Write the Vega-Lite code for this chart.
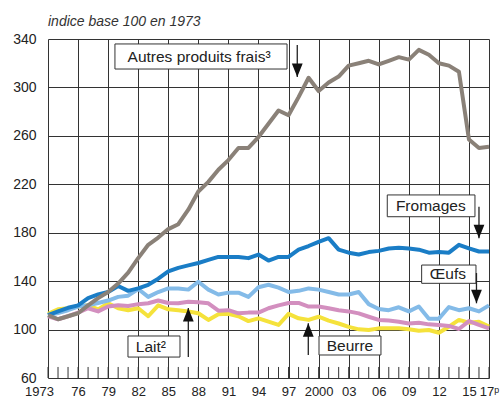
{
  "$schema": "https://vega.github.io/schema/vega-lite/v6.json",
  "width": 441,
  "height": 339,
  "autosize": {"type": "none"},
  "padding": {"left": 48, "top": 39, "right": 12, "bottom": 23},
  "background": "white",
  "config": {"view": {"stroke": null}, "font": "Liberation Sans", "axis": {"labelOverlap": false}},
  "title": {"text": "indice base 100 en 1973", "anchor": "start", "frame": "group", "fontStyle": "italic", "fontWeight": "normal", "fontSize": 14, "color": "#333333", "offset": 3, "font": "Liberation Sans"},
  "resolve": {"axis": {"x": "independent", "y": "independent"}},
  "datasets": {
    "series": [
      {"year": 1973, "Beurre": 113, "Lait": 111, "Oeufs": 112, "Fromages": 112, "Autres": 112},
      {"year": 1974, "Beurre": 116.7, "Lait": 108.5, "Oeufs": 113.7, "Fromages": 115, "Autres": 108.5},
      {"year": 1975, "Beurre": 117.6, "Lait": 111, "Oeufs": 116, "Fromages": 118, "Autres": 111},
      {"year": 1976, "Beurre": 119, "Lait": 114, "Oeufs": 119, "Fromages": 120, "Autres": 113.5},
      {"year": 1977, "Beurre": 120, "Lait": 117.6, "Oeufs": 120, "Fromages": 126, "Autres": 120},
      {"year": 1978, "Beurre": 116.7, "Lait": 115, "Oeufs": 122, "Fromages": 129, "Autres": 126},
      {"year": 1979, "Beurre": 121.7, "Lait": 119, "Oeufs": 124, "Fromages": 131, "Autres": 131},
      {"year": 1980, "Beurre": 117.6, "Lait": 120, "Oeufs": 127, "Fromages": 136, "Autres": 138},
      {"year": 1981, "Beurre": 116, "Lait": 119.5, "Oeufs": 128, "Fromages": 132, "Autres": 147},
      {"year": 1982, "Beurre": 117.6, "Lait": 121, "Oeufs": 133.5, "Fromages": 134, "Autres": 159},
      {"year": 1983, "Beurre": 111, "Lait": 121.7, "Oeufs": 127, "Fromages": 137, "Autres": 170},
      {"year": 1984, "Beurre": 120, "Lait": 124, "Oeufs": 131, "Fromages": 142, "Autres": 176},
      {"year": 1985, "Beurre": 116.7, "Lait": 122, "Oeufs": 134, "Fromages": 148, "Autres": 183},
      {"year": 1986, "Beurre": 116, "Lait": 121.7, "Oeufs": 134, "Fromages": 151, "Autres": 187},
      {"year": 1987, "Beurre": 115, "Lait": 123, "Oeufs": 133, "Fromages": 153, "Autres": 199},
      {"year": 1988, "Beurre": 113.5, "Lait": 122.5, "Oeufs": 139.5, "Fromages": 155, "Autres": 214},
      {"year": 1989, "Beurre": 108, "Lait": 121.7, "Oeufs": 133, "Fromages": 157.5, "Autres": 222},
      {"year": 1990, "Beurre": 112.6, "Lait": 115.6, "Oeufs": 129, "Fromages": 160, "Autres": 232},
      {"year": 1991, "Beurre": 113, "Lait": 116, "Oeufs": 130.5, "Fromages": 160, "Autres": 240},
      {"year": 1992, "Beurre": 111, "Lait": 113.4, "Oeufs": 130.5, "Fromages": 160, "Autres": 250},
      {"year": 1993, "Beurre": 107, "Lait": 114, "Oeufs": 127, "Fromages": 159, "Autres": 250},
      {"year": 1994, "Beurre": 109.3, "Lait": 114, "Oeufs": 135, "Fromages": 162, "Autres": 259},
      {"year": 1995, "Beurre": 106.5, "Lait": 117.6, "Oeufs": 137, "Fromages": 157, "Autres": 270},
      {"year": 1996, "Beurre": 103.8, "Lait": 120, "Oeufs": 134.6, "Fromages": 160, "Autres": 281},
      {"year": 1997, "Beurre": 113, "Lait": 122, "Oeufs": 131, "Fromages": 160, "Autres": 277},
      {"year": 1998, "Beurre": 109.3, "Lait": 122, "Oeufs": 132, "Fromages": 166, "Autres": 292},
      {"year": 1999, "Beurre": 108, "Lait": 119, "Oeufs": 134, "Fromages": 169, "Autres": 308},
      {"year": 2000, "Beurre": 110.6, "Lait": 119, "Oeufs": 133, "Fromages": 172.5, "Autres": 297},
      {"year": 2001, "Beurre": 107.4, "Lait": 117.6, "Oeufs": 131, "Fromages": 175.5, "Autres": 304},
      {"year": 2002, "Beurre": 105, "Lait": 116, "Oeufs": 129, "Fromages": 166, "Autres": 309},
      {"year": 2003, "Beurre": 102.2, "Lait": 115, "Oeufs": 129, "Fromages": 163.5, "Autres": 318},
      {"year": 2004, "Beurre": 100.2, "Lait": 113.4, "Oeufs": 131, "Fromages": 162, "Autres": 320},
      {"year": 2005, "Beurre": 99.6, "Lait": 110.6, "Oeufs": 121, "Fromages": 164, "Autres": 322},
      {"year": 2006, "Beurre": 101, "Lait": 108, "Oeufs": 117, "Fromages": 165, "Autres": 319},
      {"year": 2007, "Beurre": 101, "Lait": 107.4, "Oeufs": 116, "Fromages": 167, "Autres": 322},
      {"year": 2008, "Beurre": 101, "Lait": 106.5, "Oeufs": 118.4, "Fromages": 167.5, "Autres": 325},
      {"year": 2009, "Beurre": 100.2, "Lait": 105, "Oeufs": 115, "Fromages": 167, "Autres": 323},
      {"year": 2010, "Beurre": 99, "Lait": 105.7, "Oeufs": 119, "Fromages": 166, "Autres": 331},
      {"year": 2011, "Beurre": 99.6, "Lait": 104.3, "Oeufs": 109, "Fromages": 163.5, "Autres": 327},
      {"year": 2012, "Beurre": 97.4, "Lait": 103.8, "Oeufs": 109, "Fromages": 164, "Autres": 320},
      {"year": 2013, "Beurre": 102.4, "Lait": 103, "Oeufs": 118.6, "Fromages": 163.5, "Autres": 318},
      {"year": 2014, "Beurre": 108, "Lait": 100.5, "Oeufs": 116, "Fromages": 170, "Autres": 313},
      {"year": 2015, "Beurre": 105.7, "Lait": 107, "Oeufs": 117.6, "Fromages": 167, "Autres": 257},
      {"year": 2016, "Beurre": 106.5, "Lait": 103.8, "Oeufs": 115, "Fromages": 164.5, "Autres": 250},
      {"year": 2017, "Beurre": 102.4, "Lait": 101, "Oeufs": 120, "Fromages": 164.5, "Autres": 251}
    ],
    "notes": [
      {"label": "Autres produits frais³", "tx": 1988.07, "ty": 325.1, "x1": 1979.68, "x2": 1996.85, "y1": 335.9, "y2": 315.2, "ax": 1997.87, "ay1": 335.1, "ay2": 308.6, "dir": "down"},
      {"label": "Fromages", "tx": 2011.19, "ty": 202.1, "x1": 2006.85, "x2": 2015.6, "y1": 211.2, "y2": 193.2, "ax": 2016, "ay1": 201.5, "ay2": 175.4, "dir": "down"},
      {"label": "Œufs", "tx": 2012.9, "ty": 145.5, "x1": 2010.28, "x2": 2015.7, "y1": 153.3, "y2": 138.2, "ax": 2015.75, "ay1": 146.7, "ay2": 121.7, "dir": "down"},
      {"label": "Lait²", "tx": 1983.26, "ty": 86, "x1": 1980.98, "x2": 1986.17, "y1": 94.7, "y2": 77.3, "ax": 1987.0, "ay1": 77.3, "ay2": 117.8, "dir": "up"},
      {"label": "Beurre", "tx": 2003.13, "ty": 86.4, "x1": 2000.04, "x2": 2006.22, "y1": 94.7, "y2": 79, "ax": 1998.97, "ay1": 79, "ay2": 105.2, "dir": "up"}
    ]
  },
  "layer": [
    {
      "data": {"name": "series"},
      "transform": [{"fold": ["Beurre", "Lait", "Oeufs", "Fromages", "Autres"], "as": ["serie", "v"]}],
      "mark": {"type": "line", "strokeWidth": 4, "strokeJoin": "round"},
      "encoding": {
        "x": {
          "field": "year", "type": "quantitative",
          "scale": {"domain": [1973, 2017], "nice": false, "zero": false},
          "axis": {
            "orient": "bottom",
            "values": [1973, 1976, 1979, 1982, 1985, 1988, 1991, 1994, 1997, 2000, 2003, 2006, 2009, 2012, 2015, 2017],
            "grid": true, "gridColor": "#333333", "gridWidth": 1, "domain": false, "ticks": false,
            "labelFontSize": 13, "labelColor": "#222222", "labelPadding": 7, "title": null,
            "labelFlush": false, "labelOverlap": false, "labelFont": "Liberation Sans",
            "labelExpr": "datum.value == 1973 ? '1973' : datum.value == 2000 ? '2000' : datum.value == 2017 ? '17ᵖ' : slice(toString(datum.value), 2)",
            "labelOffset": {"condition": {"test": "datum.value == 1973", "value": -9}, "value": 0}
          }
        },
        "y": {
          "field": "v", "type": "quantitative",
          "scale": {"domain": [60, 340], "nice": false, "zero": false},
          "axis": {
            "orient": "left",
            "values": [60, 100, 140, 180, 220, 260, 300, 340],
            "grid": true, "gridColor": "#333333", "gridWidth": 1, "domain": false, "ticks": false,
            "labelFontSize": 14, "labelColor": "#222222", "labelPadding": 12, "title": null, "labelFont": "Liberation Sans", "labelOverlap": false
          }
        },
        "color": {
          "field": "serie", "type": "nominal",
          "scale": {"domain": ["Beurre", "Lait", "Oeufs", "Fromages", "Autres"], "range": ["#f5e23b", "#d38fbf", "#84bbe8", "#1a7dc6", "#8a8178"]},
          "legend": null
        }
      }
    },
    {
      "data": {"name": "series"},
      "mark": {"type": "rule", "color": "#333333", "strokeWidth": 1},
      "encoding": {
        "x": {"field": "year", "type": "quantitative", "axis": null},
        "y": {"datum": 60, "axis": null},
        "y2": {"datum": 69.1}
      }
    },
    {
      "data": {"name": "notes"},
      "mark": {"type": "rect", "fill": "white", "stroke": "#333333", "strokeWidth": 1},
      "encoding": {
        "x": {"field": "x1", "type": "quantitative", "axis": null},
        "x2": {"field": "x2"},
        "y": {"field": "y1", "type": "quantitative", "axis": null},
        "y2": {"field": "y2"}
      }
    },
    {
      "data": {"name": "notes"},
      "mark": {"type": "text", "fontSize": 15.5, "color": "#222222", "align": "center", "baseline": "middle", "font": "Liberation Sans"},
      "encoding": {
        "x": {"field": "tx", "type": "quantitative", "axis": null},
        "y": {"field": "ty", "type": "quantitative", "axis": null},
        "text": {"field": "label"}
      }
    },
    {
      "data": {"name": "notes"},
      "mark": {"type": "rule", "color": "#222222", "strokeWidth": 1.3},
      "encoding": {
        "x": {"field": "ax", "type": "quantitative", "axis": null},
        "y": {"field": "ay1", "type": "quantitative", "axis": null},
        "y2": {"field": "ay2"}
      }
    },
    {
      "data": {"name": "notes"},
      "mark": {"type": "point", "filled": true, "color": "#111111", "opacity": 1, "size": 729, "strokeWidth": 0},
      "encoding": {
        "x": {"field": "ax", "type": "quantitative", "axis": null},
        "y": {"field": "ay2", "type": "quantitative", "axis": null},
        "shape": {"condition": {"test": "datum.dir == 'up'", "value": "M-0.4,1L0.4,1L0,0Z"}, "value": "M-0.4,-1L0.4,-1L0,0Z"}
      }
    }
  ]
}
